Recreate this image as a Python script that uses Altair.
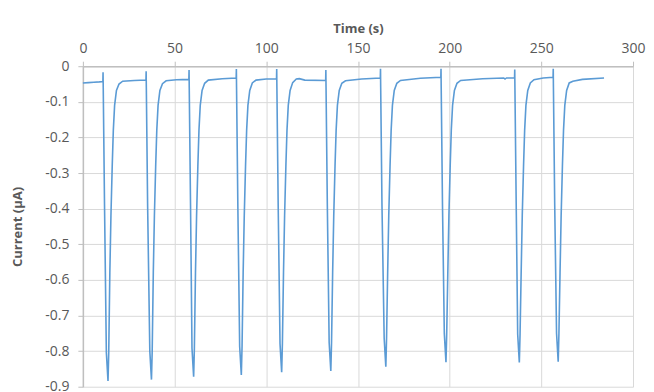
import altair as alt
import pandas as pd

# Time (s) and current (µA), one cycle per line
time_s = [
    0.0, 3.0, 6.0, 9.0, 10.9,
    11.0, 11.1, 11.8, 12.8, 13.7, 14.1, 14.7, 15.3, 16.0, 16.6, 17.3, 18.3, 19.7, 21.7, 28.0, 34.4,
    34.5, 34.6, 35.3, 36.5, 37.4, 37.8, 38.4, 39.0, 39.7, 40.3, 41.0, 42.0, 43.4, 45.4, 51.0, 57.8,
    57.9, 58.0, 58.7, 59.5, 60.4, 60.8, 61.4, 62.0, 62.7, 63.3, 64.0, 65.0, 66.4, 68.4, 76.0, 83.6,
    83.7, 83.8, 84.5, 85.5, 86.4, 86.8, 87.4, 88.0, 88.7, 89.3, 90.0, 91.0, 92.4, 94.4, 100.0, 105.6,
    105.7, 105.8, 106.5, 107.5, 108.4, 108.8, 109.4, 110.0, 110.7, 111.3, 112.0, 113.0, 114.4, 116.4, 118.0, 121.0, 132.4,
    132.5, 132.6, 133.3, 134.3, 135.2, 135.6, 136.2, 136.8, 137.5, 138.1, 138.8, 139.8, 141.2, 143.2, 152.0, 162.2,
    162.3, 162.4, 163.1, 164.3, 165.2, 165.6, 166.2, 166.8, 167.5, 168.1, 168.8, 169.8, 171.2, 173.2, 184.0, 195.2,
    195.3, 195.4, 196.1, 197.1, 198.0, 198.4, 199.0, 199.6, 200.3, 200.9, 201.6, 202.6, 204.0, 206.0, 218.0, 229.5, 230.2, 231.0, 235.4,
    235.5, 235.6, 236.3, 237.1, 238.0, 238.4, 239.0, 239.6, 240.3, 240.9, 241.6, 242.6, 244.0, 246.0, 251.0, 256.4,
    256.5, 256.6, 257.3, 258.3, 259.2, 259.6, 260.2, 260.8, 261.5, 262.1, 262.8, 263.8, 265.2, 267.2, 272.4, 284.2,
]
current_uA = [
    -0.047, -0.046, -0.045, -0.044, -0.043,
    -0.017, -0.060, -0.390, -0.804, -0.884, -0.804, -0.580, -0.420, -0.280, -0.180, -0.110, -0.068, -0.050, -0.042, -0.040, -0.039,
    -0.014, -0.060, -0.390, -0.800, -0.880, -0.800, -0.580, -0.420, -0.280, -0.180, -0.110, -0.068, -0.049, -0.041, -0.038, -0.037,
    -0.011, -0.060, -0.390, -0.792, -0.872, -0.792, -0.580, -0.420, -0.280, -0.180, -0.110, -0.068, -0.048, -0.039, -0.035, -0.033,
    -0.008, -0.060, -0.390, -0.787, -0.867, -0.787, -0.580, -0.420, -0.280, -0.180, -0.110, -0.068, -0.047, -0.039, -0.036, -0.035,
    -0.008, -0.060, -0.390, -0.779, -0.859, -0.779, -0.580, -0.420, -0.280, -0.180, -0.110, -0.068, -0.046, -0.036, -0.035, -0.039, -0.040,
    -0.011, -0.060, -0.390, -0.776, -0.856, -0.776, -0.580, -0.420, -0.280, -0.180, -0.110, -0.068, -0.048, -0.041, -0.036, -0.033,
    -0.007, -0.060, -0.390, -0.764, -0.844, -0.764, -0.580, -0.420, -0.280, -0.180, -0.110, -0.068, -0.048, -0.040, -0.034, -0.031,
    -0.007, -0.060, -0.390, -0.751, -0.831, -0.751, -0.580, -0.420, -0.280, -0.180, -0.110, -0.068, -0.048, -0.040, -0.035, -0.033, -0.036, -0.033, -0.033,
    -0.009, -0.060, -0.390, -0.752, -0.832, -0.752, -0.580, -0.420, -0.280, -0.180, -0.110, -0.068, -0.047, -0.038, -0.033, -0.031,
    -0.007, -0.060, -0.390, -0.750, -0.830, -0.750, -0.580, -0.420, -0.280, -0.180, -0.110, -0.068, -0.047, -0.042, -0.037, -0.033,
]
assert len(time_s) == len(current_uA)

x_ticks = [0, 50, 100, 150, 200, 250, 300]
y_ticks = [0, -0.1, -0.2, -0.3, -0.4, -0.5, -0.6, -0.7, -0.8, -0.9]

df = pd.DataFrame({"t": time_s, "i": current_uA, "order": list(range(len(time_s)))})

FONT = "Open Sans"
GREY = "#595959"

chart = (
    alt.Chart(df)
    .mark_line(color="#5B9BD5", strokeWidth=1.6, interpolate="linear")
    .encode(
        x=alt.X(
            "t:Q",
            scale=alt.Scale(domain=[0, 300], nice=False, zero=False),
            axis=alt.Axis(
                orient="top",
                title="Time (s)",
                values=x_ticks,
                tickSize=5,
                labelPadding=6,
                titlePadding=6,
                labelFlush=False,
            ),
        ),
        y=alt.Y(
            "i:Q",
            scale=alt.Scale(domain=[-0.9, 0], nice=False, zero=False),
            axis=alt.Axis(
                title="Current (μA)",
                values=y_ticks,
                tickSize=5,
                labelPadding=9,
                titlePadding=20,
                labelFlush=False,
                labelExpr="datum.value == 0 ? '0' : replace(format(datum.value, '.1f'), '\u2212', '-')",
            ),
        ),
        order="order:Q",
    )
    .properties(width=551, height=321, padding={"left": 3, "top": 14, "right": 0, "bottom": 0})
    .configure_view(strokeWidth=0)
    .configure_axis(
        labelFont=FONT,
        titleFont=FONT,
        labelFontSize=14,
        titleFontSize=13,
        titleFontWeight="bold",
        labelColor=GREY,
        titleColor=GREY,
        domainColor="#BFBFBF",
        tickColor="#BFBFBF",
        gridColor="#D9D9D9",
        gridWidth=1,
        domainWidth=1.5,
    )
)

chart.save("out.html", embed_options={"renderer": "svg", "actions": False})
